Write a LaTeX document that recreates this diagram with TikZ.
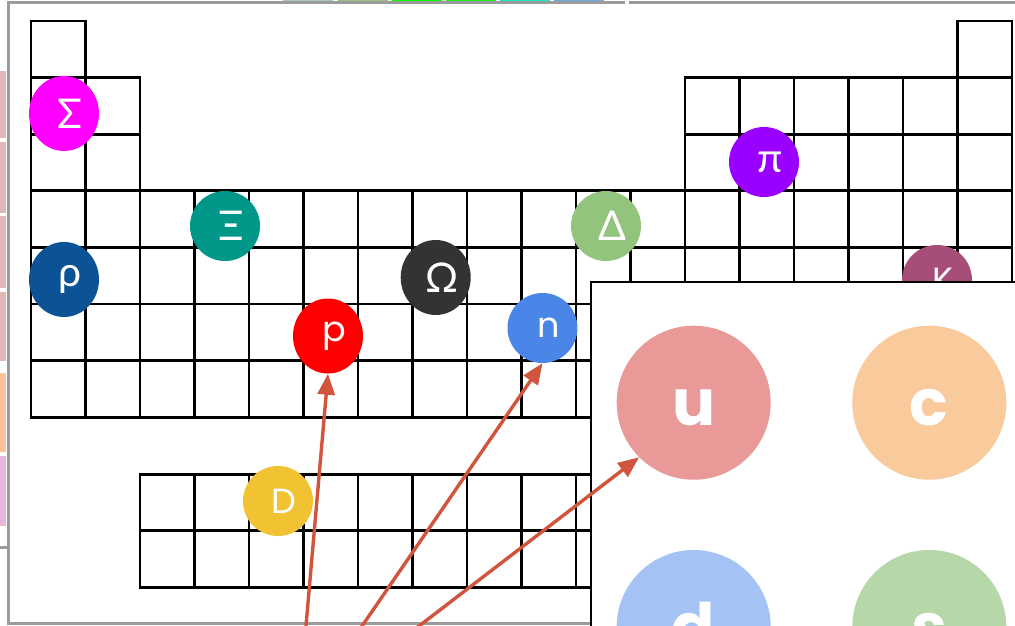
\documentclass[tikz,border=0pt]{standalone}
\usepackage{fontspec}
\usepackage{tikz}
\usetikzlibrary{shapes.geometric, arrows.meta, positioning}
\newfontfamily\latinfont{Poppins}
\newfontfamily\greekfont{Lato}
\newcommand{\latinlabel}{\latinfont\fontsize{35}{40}\selectfont}
\newcommand{\greeklabel}{\greekfont\fontsize{41}{44}\selectfont}
\definecolor{frameGray}{HTML}{9B9B9B}
\definecolor{arrowRed}{HTML}{D1553D}
\definecolor{sigmaCol}{HTML}{FF00FF}
\definecolor{rhoCol}{HTML}{0B5394}
\definecolor{xiCol}{HTML}{009688}
\definecolor{protonCol}{HTML}{FF0000}
\definecolor{omegaCol}{HTML}{333333}
\definecolor{neutronCol}{HTML}{4A86E8}
\definecolor{deltaCol}{HTML}{93C47D}
\definecolor{pionCol}{HTML}{9900FF}
\definecolor{kaonCol}{HTML}{A64D79}
\definecolor{dmesonCol}{HTML}{F1C232}
\definecolor{upCol}{HTML}{EA9999}
\definecolor{charmCol}{HTML}{F9CB9C}
\definecolor{downCol}{HTML}{A4C2F4}
\definecolor{strangeCol}{HTML}{B6D7A8}
\definecolor{roseStrip}{HTML}{DFB7B7}
\definecolor{orangeStrip}{HTML}{FFC09C}
\definecolor{pinkStrip}{HTML}{E9B5DA}

\begin{document}
\begin{tikzpicture}[x=1pt, y=-1pt,
    cell/.style={draw=black, line width=2.7pt},
    part/.style={circle, minimum size=70pt, inner sep=0pt, text=white,
      execute at begin node=\hspace*{12pt}},
    tallpart/.style={part, ellipse, minimum width=70pt, minimum height=75pt},
    quark/.style={circle, minimum size=154pt, inner sep=0pt, text=white,
      text height=45pt, text depth=0pt,
      font=\latinfont\bfseries\fontsize{64}{70}\selectfont},
    hit/.style={draw=arrowRed, line width=3.4pt, -{Triangle[length=21pt, width=17pt]}}]
  \useasboundingbox (0,0) rectangle (1015,626);
  \clip (0,0) rectangle (1015,626);

  % Slide edges peeking out
  \foreach \ya/\yb in {70.7/138, 141.7/213, 216/288, 291.7/361}
    \fill[roseStrip] (0,\ya) rectangle (6,\yb);
  \fill[orangeStrip] (0,372.7) rectangle (6,451.7);
  \fill[pinkStrip] (0,455.7) rectangle (6,525.7);
  \fill[frameGray] (0,546) rectangle (7,549);
  \foreach \xa/\col in {283/A9C4C4, 338/93C47D, 392/00FF00, 446/22EE22, 500/1DE9C8, 554/6FA8DC}{
    \definecolor{stripCol}{HTML}{\col}
    \fill[stripCol] (\xa,0) rectangle ++(50,1.4);
  }

  % Frame
  \draw[frameGray, line width=3pt] (625,2.5) -- (8.5,2.5) -- (8.5,623.5) -- (600,623.5);
  \draw[frameGray, line width=3pt] (629,2.5) -- (1015,2.5);

  % Table
  \foreach \c in {1,18}
    \draw[cell] ({31+(\c-1)*54.5},21) rectangle ++(54.5,56.6);
  \foreach \r in {2,3}
    \foreach \c in {1,2,13,14,...,18}
      \draw[cell] ({31+(\c-1)*54.5},{21+(\r-1)*56.6}) rectangle ++(54.5,56.6);
  \foreach \r in {4,...,7}
    \foreach \c in {1,...,18}
      \draw[cell] ({31+(\c-1)*54.5},{21+(\r-1)*56.6}) rectangle ++(54.5,56.6);
  \foreach \r in {1,2}
    \foreach \c in {3,...,17}
      \draw[cell] ({31+(\c-1)*54.5},{474.3+(\r-1)*56.5}) rectangle ++(54.5,56.5);

  % Particles
  \node[tallpart, fill=sigmaCol, font=\greeklabel] (sigma) at (64,113.5) {Σ};
  \node[tallpart, fill=rhoCol, font=\greeklabel] (rho) at (64,279.5) {ρ};
  \node[part, fill=xiCol, font=\greeklabel] (xi) at (225,226) {Ξ};
  \node[tallpart, fill=protonCol, font=\latinlabel] (proton) at (328,336) {p};
  \node[tallpart, fill=omegaCol, font=\greeklabel] (omega) at (435.7,277.5) {Ω};
  \node[part, fill=neutronCol, font=\latinlabel] (neutron) at (542.5,328) {n};
  \node[part, fill=deltaCol, font=\greeklabel] (delta) at (606,226) {Δ};
  \node[part, fill=pionCol, font=\greeklabel] (pion) at (764,162) {π};
  \node[part, fill=kaonCol, font=\latinlabel] (kaon) at (937,280) {K};
  \node[part, fill=dmesonCol, font=\latinlabel] (dmeson) at (278,501) {D};

  % Quark panel
  \draw[fill=white, line width=2pt] (591,282) rectangle (1030,660);
  \node[quark, fill=upCol] (up) at (693.7,402.7) {u};
  \node[quark, fill=charmCol] (charm) at (929.3,402.7) {c};
  \node[quark, fill=downCol] (down) at (693.7,627) {d};
  \node[quark, fill=strangeCol] (strange) at (929.3,627) {s};

  % Arrows
  \coordinate (fromP) at (303,660);
  \coordinate (fromN) at (338.7,660);
  \coordinate (fromU) at (374.7,660);
  \draw[hit] (fromP) -- (proton.south);
  \draw[hit] (fromN) -- (neutron.south);
  \draw[hit] (fromU) -- (up.225);
\end{tikzpicture}
\end{document}
